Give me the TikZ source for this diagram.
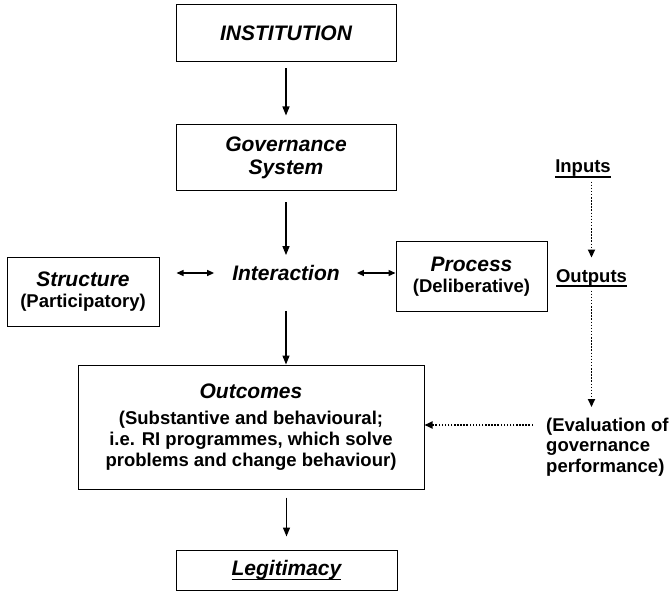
\documentclass[tikz,border=0pt]{standalone}
\usepackage{fontspec}
\setmainfont{Liberation Sans}
\usetikzlibrary{arrows.meta}

\newcommand{\headfont}{\fontsize{21}{23}\selectfont\bfseries\itshape}
\newcommand{\subfont}{\fontsize{18.5}{20.8}\selectfont\bfseries}
\newcommand{\ulbox}[1]{\setbox0\hbox{#1}\rlap{\rule[-5pt]{\wd0}{1.6pt}}\box0}

\begin{document}
\begin{tikzpicture}[x=1pt, y=-1pt,
  box/.style={draw, line width=1pt, align=center, inner sep=0pt},
  arr/.style={line width=1.3pt, -{Triangle[length=9pt,width=7pt]}},
  dbl/.style={line width=1.3pt, {Triangle[length=7pt,width=6pt]}-{Triangle[length=7pt,width=6pt]}},
  dotarr/.style={line width=1.7pt, dash pattern=on 1.5pt off 1.6pt, -{Triangle[length=8pt,width=7pt]}}]

  \useasboundingbox (0, 0) rectangle (670, 591);

  \node[box, font=\headfont, minimum width=220, minimum height=57] (inst) at (286, 33.5) {INSTITUTION};
  \node[box, font=\headfont, minimum width=220, minimum height=66] (gov) at (286, 158) {Governance\\System};

  \node[font=\headfont, inner sep=0pt] (inter) at (286, 273) {Interaction};
  \node[box, font=\subfont, minimum width=152, minimum height=69] (struct) at (83, 291.5) {{\headfont Structure}\\(Participatory)};
  \node[box, font=\subfont, minimum width=151, minimum height=69] (proc) at (471.5, 276.5) {{\headfont Process}\\(Deliberative)};

  \node[font=\subfont, anchor=base] (inputs) at (583, 173) {\ulbox{Inputs}};
  \node[font=\subfont, anchor=base] (outputs) at (591.5, 282) {\ulbox{Outputs}};
  \node[font=\subfont, align=left, anchor=north west, inner sep=0pt] (eval) at (546, 417.5) {(Evaluation of\\governance\\performance)};

  \node[box, font=\subfont, minimum width=346, minimum height=124] (outc) at (251, 427)
    {{\headfont Outcomes}\\[6pt](Substantive and behavioural;\\i.e. RI programmes, which solve\\problems and change behaviour)};
  \node[box, font=\headfont, minimum width=221, minimum height=40] (legit) at (286.5, 570) {\ulbox{Legitimacy}};

  \draw[arr, shorten <=6pt, shorten >=9pt] (inst) -- (gov);
  \draw[arr, shorten <=11pt, shorten >=10pt] (gov) -- (inter);
  \draw[arr, shorten <=30pt] (inter) -- (inter |- outc.north);
  \draw[arr, shorten <=8pt, shorten >=13pt] (outc.south -| legit) -- (legit.north);

  \draw[dbl, shorten <=18pt, shorten >=17pt] (inter.west) -- (inter.west -| struct.east);
  \draw[dbl, shorten <=17pt] (inter.east) -- (inter.east -| proc.west);

  \draw[dotarr, shorten >=8pt] (outputs |- inputs.south) -- (outputs.north);
  \draw[dotarr, shorten >=10.5pt] (outputs.south) -- (outputs |- eval.north);
  \coordinate (evalin) at ([yshift=-7.5pt]eval.north west);
  \draw[dotarr, shorten <=13pt] (evalin) -- (evalin -| outc.east);

\end{tikzpicture}
\end{document}
